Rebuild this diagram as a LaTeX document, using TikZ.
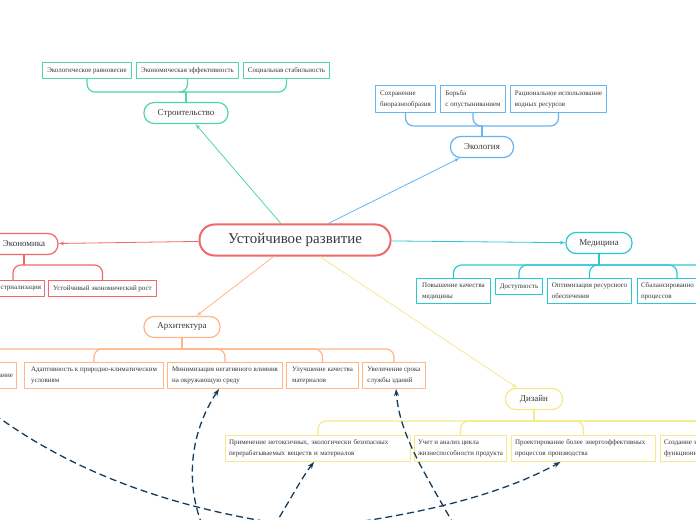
\documentclass[tikz,border=0pt]{standalone}
\usepackage{fontspec}
\setmainfont{Liberation Serif}
\usetikzlibrary{arrows,arrows.meta,positioning}
\definecolor{hubred}{HTML}{F26868}
\definecolor{grn}{HTML}{4FD8A6}
\definecolor{blu}{HTML}{67B4F2}
\definecolor{cyn}{HTML}{2CC8D2}
\definecolor{org}{HTML}{FFB588}
\definecolor{ylw}{HTML}{F6EA88}
\definecolor{navy}{HTML}{163C5C}
\definecolor{txt}{HTML}{383838}

\begin{document}
\begin{tikzpicture}[>=latex',line join=bevel,x=1bp,y=-1bp,
  hub/.style={draw=hubred,line width=2bp,rounded corners=15bp,fill=white,minimum width=191bp,minimum height=31bp,font=\fontsize{15}{17}\selectfont,text=txt},
  topic/.style={draw=#1,line width=1.2bp,rounded corners=10bp,fill=white,minimum height=21bp,font=\fontsize{9}{11}\selectfont,text=txt},
  leaf/.style={draw=#1,line width=1bp,fill=white,align=left,anchor=north west,inner xsep=3.5bp,font=\fontsize{7}{11}\selectfont,text=txt},
  branch/.style={draw=#1,line width=1.2bp,rounded corners=8bp},
  link/.style={draw=#1,line width=0.8bp,->},
  cross/.style={draw=navy,line width=1.3bp,dash pattern=on 7bp off 4bp,-{Stealth[length=7bp,width=5bp]}}]
\useasboundingbox (0,0) rectangle (696,520);
\clip (0,0) rectangle (696,520);
\fill[white] (0,0) rectangle (696,520);
%%
  % Node: sd
  \node[hub] (sd) at (295,240) {Устойчивое развитие};
  % Node: build
  \node[topic=grn,minimum width=84bp] (build) at (186,113) {Строительство};
  % Node: eco
  \node[topic=blu,minimum width=63bp] (eco) at (482,147) {Экология};
  % Node: econ
  \node[topic=hubred,minimum width=68bp] (econ) at (24,244) {Экономика};
  % Node: med
  \node[topic=cyn,minimum width=66bp] (med) at (599,243) {Медицина};
  % Node: arch
  \node[topic=org,minimum width=76bp] (arch) at (182,327) {Архитектура};
  % Node: des
  \node[topic=ylw,minimum width=57bp] (des) at (534,399) {Дизайн};
%%
  % Edge: sd -> topics
  \draw[link=grn] (sd) -- (build);
  \draw[link=blu] (sd) -- (eco);
  \draw[link=hubred] (sd) -- (econ);
  \draw[link=cyn] (sd) -- (med);
  \draw[link=org] (sd) -- (arch);
  \draw[link=ylw] (sd) -- (des);
%%
  % Node: build leaves
  \node[leaf=grn,minimum width=89bp,minimum height=16bp] (b1) at (42,62) {Экологическое равновесие};
  \node[leaf=grn,minimum width=102bp,minimum height=16bp] (b2) at (136,62) {Экономическая эффективность};
  \node[leaf=grn,minimum width=86bp,minimum height=16bp] (b3) at (243,62) {Социальная стабильность};
  \coordinate (buildbar) at (186,92);
  \draw[branch=grn] (build.north) -- (buildbar);
  \foreach \c in {b1,b2,b3}
    \draw[branch=grn] (\c.south) |- (buildbar);
  % Node: eco leaves
  \node[leaf=blu,minimum width=60bp,minimum height=27bp] (e1) at (375,85) {Сохранение\\биоразнообразия};
  \node[leaf=blu,minimum width=65bp,minimum height=27bp] (e2) at (440,85) {Борьба\\с опустыниванием};
  \node[leaf=blu,minimum width=96bp,minimum height=27bp] (e3) at (510,85) {Рациональное использование\\водных ресурсов};
  \coordinate (ecobar) at (482,126);
  \draw[branch=blu] (eco.north) -- (ecobar);
  \foreach \c in {e1,e2,e3}
    \draw[branch=blu] (\c.south) |- (ecobar);
  % Node: econ leaves
  \node[leaf=hubred,anchor=north east,text width=56bp,align=right,minimum height=16bp] (n1) at (45,280) {стриализация};
  \node[leaf=hubred,minimum width=108bp,minimum height=16bp] (n2) at (48,280) {Устойчивый экономический рост};
  \coordinate (econbar) at (24,265);
  \draw[branch=hubred] (econ.south) -- (econbar);
  \foreach \c in {n1,n2}
    \draw[branch=hubred] (\c.north) |- (econbar);
  % Node: med leaves
  \node[leaf=cyn,minimum width=74bp,minimum height=25bp] (m1) at (416,278) {Повышение качества\\медицины};
  \node[leaf=cyn,minimum width=47bp,minimum height=16bp] (m2) at (495,278) {Доступность};
  \node[leaf=cyn,minimum width=84bp,minimum height=25bp] (m3) at (547,278) {Оптимизация ресурсного\\обеспечения};
  \node[leaf=cyn,text width=72bp,minimum height=25bp] (m4) at (637,278) {Сбалансированно\\процессов};
  \coordinate (medmore) at (760,300);
  \coordinate (medbar) at (599,265);
  \draw[branch=cyn] (med.south) -- (medbar);
  \foreach \c in {m1,m2,m3,m4,medmore}
    \draw[branch=cyn] (\c.north) |- (medbar);
  % Node: arch leaves
  \node[leaf=org,anchor=north east,text width=60bp,align=right,minimum height=26bp] (a1) at (17,362) {ание};
  \node[leaf=org,minimum width=139bp,minimum height=26bp] (a2) at (24,362) {Адаптивность к природно-климатическим\\условиям};
  \node[leaf=org,minimum width=115bp,minimum height=26bp] (a3) at (167,362) {Минимизация негативного влияния\\на окружающую среду};
  \node[leaf=org,minimum width=72bp,minimum height=26bp] (a4) at (286,362) {Улучшение качества\\материалов};
  \node[leaf=org,minimum width=63bp,minimum height=26bp] (a5) at (362,362) {Увеличение срока\\службы зданий};
  \coordinate (archbar) at (182,349);
  \draw[branch=org] (arch.south) -- (archbar);
  \foreach \c in {a1,a2,a3,a4,a5}
    \draw[branch=org] (\c.north) |- (archbar);
  % Node: des leaves
  \node[leaf=ylw,text width=178bp,minimum height=26bp] (d1) at (225,435) {Применение нетоксичных, экологически безопасных\\перерабатываемых веществ и материалов};
  \node[leaf=ylw,minimum width=91bp,minimum height=26bp] (d2) at (414,435) {Учет и анализ цикла\\жизнеспособности продукта};
  \node[leaf=ylw,text width=137bp,minimum height=26bp] (d3) at (511,435) {Проектирование более энергоэффективных\\процессов производства};
  \node[leaf=ylw,text width=80bp,minimum height=26bp] (d4) at (660,435) {Создание н\\функциони};
  \coordinate (desmore) at (800,455);
  \coordinate (desbar) at (534,421);
  \draw[branch=ylw] (des.south) -- (desbar);
  \foreach \c in {d1,d2,d3,d4,desmore}
    \draw[branch=ylw] (\c.north) |- (desbar);
%%
  % Edge: dashed cross links
  \coordinate (srcA) at (330,530);
  \coordinate (offA) at (-30,395);
  \coordinate (srcB) at (212,545);
  \coordinate (srcC) at (262,545);
  \coordinate (srcD) at (465,545);
  \coordinate (srcE) at (320,527);
  \draw[cross] (srcA) .. controls (180,515) and (60,470) .. (offA);
  \draw[cross] (srcB) .. controls (185,500) and (185,440) .. ([xshift=-6bp]a3.south);
  \draw[cross] (srcC) .. controls (285,510) and (300,480) .. ([xshift=-4bp]d1.south);
  \draw[cross] (srcD) .. controls (430,480) and (400,440) .. ([xshift=2bp]a5.south);
  \draw[cross] (srcE) .. controls (420,515) and (500,495) .. ([xshift=-23bp]d3.south);
%
\end{tikzpicture}
\end{document}
